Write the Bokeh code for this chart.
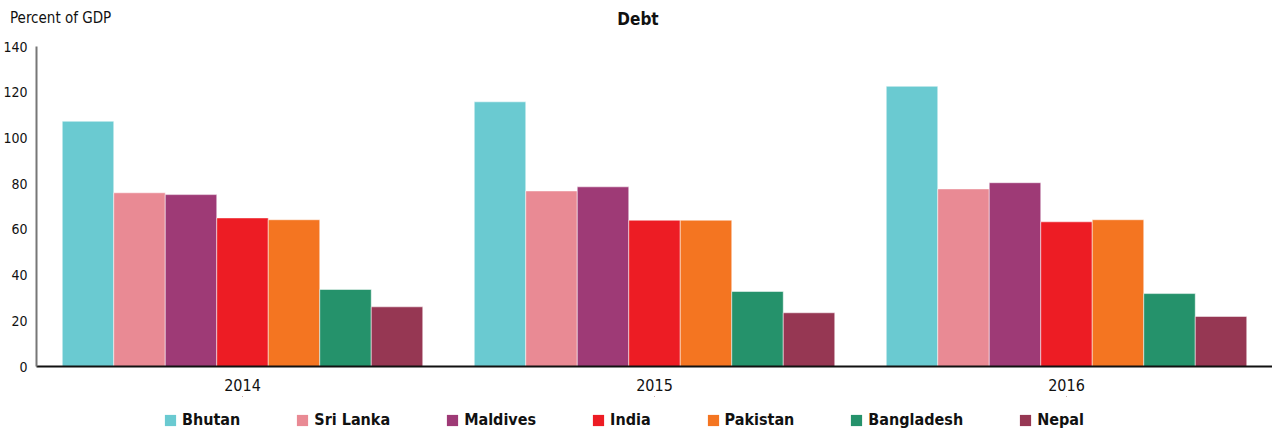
from bokeh.plotting import figure
from bokeh.layouts import column
from bokeh.models import (ColumnDataSource, FactorRange, Range1d, FixedTicker,
                          Legend, LegendItem, Div)
from bokeh.transform import dodge
from bokeh.embed import file_html
from bokeh.resources import INLINE

years = ["2014", "2015", "2016"]
countries = ["Bhutan", "Sri Lanka", "Maldives", "India", "Pakistan", "Bangladesh", "Nepal"]
colors = ["#6ACAD1", "#E98A94", "#9E3A76", "#ED1C24", "#F47521", "#25926B", "#963753"]

bhutan = [107.3, 115.8, 122.6]
sri_lanka = [76.0, 76.8, 77.7]
maldives = [75.2, 78.6, 80.4]
india = [65.0, 64.0, 63.3]
pakistan = [64.2, 64.0, 64.2]
bangladesh = [33.7, 32.8, 31.9]
nepal = [26.1, 23.5, 21.9]

y_ticks = [0, 20, 40, 60, 80, 100, 120, 140]

title_text = "Debt"
unit_text = "Percent of GDP"

FONT = "DejaVu Sans Condensed"
INK = "#111111"
W = 1272

series = [bhutan, sri_lanka, maldives, india, pakistan, bangladesh, nepal]
keys = ["c%d" % i for i in range(len(countries))]
data = {"year": years}
for k, s in zip(keys, series):
    data[k] = s
source = ColumnDataSource(data)

# ---- header (title texts) ----
head_html = (
    '<div style="position:relative;width:%dpx;height:36px;font-family:\'%s\';color:%s;">'
    '<span style="position:absolute;left:10px;top:9px;font-size:15px;line-height:19px;'
    'white-space:nowrap;">%s</span>'
    '<span style="position:absolute;left:613px;top:10px;width:50px;text-align:center;'
    'font-size:17px;line-height:19px;font-weight:bold;white-space:nowrap;">%s</span>'
    '</div>' % (W, FONT, INK, unit_text, title_text)
)
head = Div(text=head_html, width=W, height=36, margin=0)

# ---- main chart ----
p = figure(width=W, height=360, x_range=FactorRange(*years, range_padding=0),
           y_range=Range1d(0, 140), output_backend="svg", toolbar_location=None,
           min_border_left=27, min_border_right=0, min_border_top=10, min_border_bottom=30)

bw = 0.125
for i, (k, name, col) in enumerate(zip(keys, countries, colors)):
    off = (i - 3) * bw
    p.vbar(x=dodge("year", off, range=p.x_range), top=k, width=bw, bottom=0,
           source=source, fill_color=col, line_color="white", line_alpha=0.5,
           line_width=1)

p.xgrid.visible = False
p.ygrid.visible = False
p.outline_line_color = None

p.yaxis.ticker = FixedTicker(ticks=y_ticks)
p.yaxis.major_tick_line_color = None
p.yaxis.minor_tick_line_color = None
p.yaxis.axis_line_color = "#777777"
p.yaxis.axis_line_width = 2
p.yaxis.major_label_standoff = 3
p.yaxis.major_label_text_font = FONT
p.yaxis.major_label_text_font_size = "14px"
p.yaxis.major_label_text_color = INK

p.xaxis.major_tick_line_color = None
p.xaxis.minor_tick_line_color = None
p.xaxis.axis_line_color = INK
p.xaxis.axis_line_width = 2
p.xaxis.major_label_standoff = 6
p.xaxis.major_label_text_font = FONT
p.xaxis.major_label_text_font_size = "16px"
p.xaxis.major_label_text_color = INK

# ---- legend strip (swatches taken from zero-height copies of the series, out of view) ----
leg = figure(width=W, height=36, x_range=FactorRange(*years), y_range=Range1d(-2, -1),
             x_axis_type=None, y_axis_type=None, output_backend="svg",
             toolbar_location=None, min_border=0, outline_line_color=None)
leg.grid.visible = False
items = []
for k, name, col in zip(keys, countries, colors):
    r = leg.vbar(x="year", top=k, bottom=k, width=0.001, source=source,
                 fill_color=col, line_color=None)
    items.append(LegendItem(label=name, renderers=[r]))

legend = Legend(items=items, orientation="horizontal", location=(127, 3),
                glyph_width=14, glyph_height=14, label_standoff=5, spacing=55,
                label_text_font=FONT, label_text_font_size="16px",
                label_text_font_style="bold", label_text_color=INK,
                border_line_color=None, background_fill_alpha=0, padding=0, margin=0)
leg.add_layout(legend)

layout = column(head, p, leg, spacing=0)
open("out.html", "w").write(file_html(layout, INLINE))
